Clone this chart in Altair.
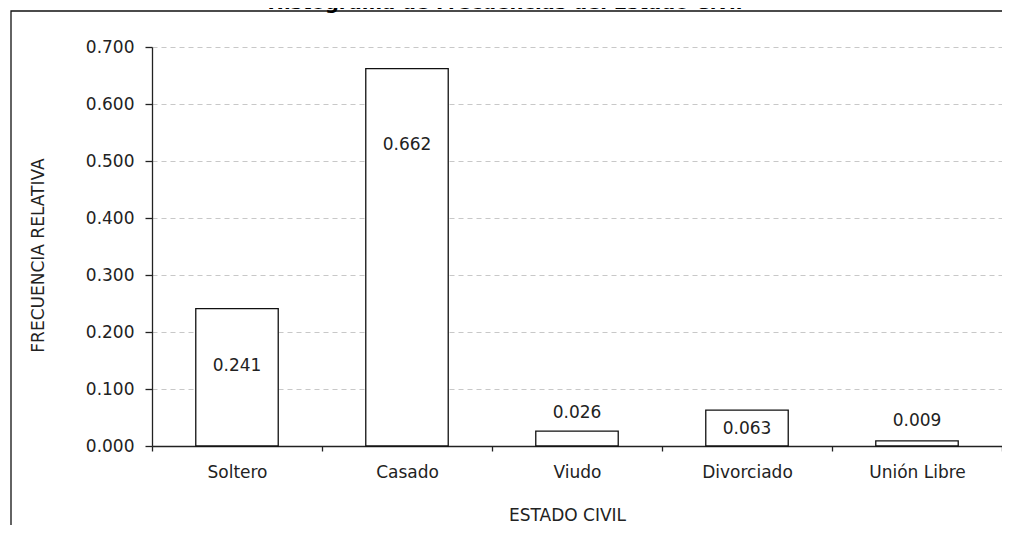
import altair as alt
import pandas as pd

# ---- data ----
categories = ["Soltero", "Casado", "Viudo", "Divorciado", "Unión Libre"]
values = [0.241, 0.662, 0.026, 0.063, 0.009]
label_texts = ["0.241", "0.662", "0.026", "0.063", "0.009"]
label_pos = [0.1395, 0.528, 0.058, 0.030, 0.043]
y_ticks = [0.0, 0.1, 0.2, 0.3, 0.4, 0.5, 0.6, 0.7]
title_text = "Histograma de Frecuencias del Estado Civil"
x_title = "ESTADO CIVIL"
y_title = "FRECUENCIA RELATIVA"

df = pd.DataFrame({"cat": categories, "val": values, "lab": label_texts, "pos": label_pos})
one = pd.DataFrame({"k": [0]})

FONT = "DejaVu Sans"
TXT = "#222222"
LINE = "#222222"

y_scale = alt.Scale(domain=[0, 0.7], nice=False, zero=True)
x_scale = alt.Scale(paddingInner=0, paddingOuter=0)

x_axis = alt.Axis(
    title=x_title, labelAngle=0, tickBand="extent", tickSize=5, tickWidth=1.3,
    tickColor=LINE, domainColor=LINE, domainWidth=1.3, labelPadding=13,
    labelFont=FONT, labelFontSize=17, labelColor=TXT,
    titleFont=FONT, titleFontSize=17, titleFontWeight="normal", titleColor=TXT,
    titleX=415, titleY=61, titleBaseline="top", titleAlign="center", grid=False,
)
y_axis = alt.Axis(
    values=y_ticks, format=".3f", title=y_title,
    titleFont=FONT, titleFontSize=17, titleFontWeight="normal", titleColor=TXT,
    titleAngle=270, titleX=-114, titleY=208, titleAlign="center", titleBaseline="middle",
    labelFont=FONT, labelFontSize=17, labelColor=TXT, labelPadding=11,
    tickSize=7, tickWidth=1.3, tickColor=LINE, domainColor=LINE, domainWidth=1.3,
    grid=True, gridColor="#c8c8c8", gridDash=[5, 4], gridWidth=1.2,
)

frame = alt.Chart(one).mark_rect(filled=False, stroke="#111111", strokeWidth=1.3).encode(
    x=alt.value(-141), x2=alt.value(900), y=alt.value(-36), y2=alt.value(560)
)

bars = alt.Chart(df).mark_bar(
    width={"band": 0.485}, fill="white", stroke="#111111", strokeWidth=1.3
).encode(
    x=alt.X("cat:N", sort=categories, scale=x_scale, axis=x_axis),
    y=alt.Y("val:Q", scale=y_scale, axis=y_axis),
)

labels = alt.Chart(df).mark_text(
    font=FONT, fontSize=17, baseline="middle", align="center", color=TXT
).encode(
    x=alt.X("cat:N", sort=categories),
    y=alt.Y("pos:Q"),
    text="lab:N",
)

title = alt.Chart(one).mark_text(
    text=title_text, font=FONT, fontSize=19.5, fontWeight="bold",
    align="center", baseline="alphabetic", color="#000000"
).encode(x=alt.value(353), y=alt.value(-38))

chart = alt.layer(frame, bars, labels, title).properties(
    width=850, height=399,
    autosize=alt.AutoSizeParams(type="none"),
    padding={"left": 144, "top": 39, "right": 0, "bottom": 79},
    background="white",
).configure_view(stroke="transparent")

chart.save("out.html", embed_options={"renderer": "svg", "actions": False})
